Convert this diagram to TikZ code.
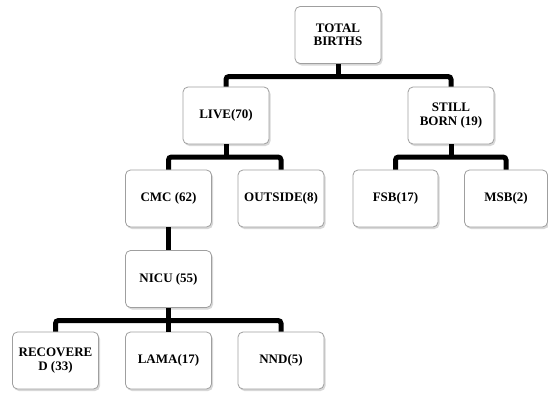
\documentclass[tikz,border=0pt]{standalone}
\usepackage{fontspec}
\setmainfont{Liberation Serif}
\usetikzlibrary{shadows}
\begin{document}
\begin{tikzpicture}[x=1pt,y=-1pt,
  box/.style={draw=gray!75, line width=0.8pt, fill=white, rounded corners=5pt,
    minimum width=86pt, minimum height=57pt, inner sep=2pt, align=center,
    font=\bfseries\fontsize{13}{13.5}\selectfont,
    drop shadow={shadow xshift=1.5pt, shadow yshift=-2pt, fill=gray!60, opacity=0.5}},
  conn/.style={line width=5pt, black, rounded corners=3pt}]
\fill[white] (0,0) rectangle (548,396);
\useasboundingbox (0,0) rectangle (548,396);
\node[box] (total) at (338,35) {TOTAL\\BIRTHS};
\node[box] (live) at (226,115.5) {LIVE(70)};
\node[box] (still) at (451,115.5) {STILL\\BORN (19)};
\node[box] (cmc) at (168.5,198.5) {CMC (62)};
\node[box] (outside) at (281,198.5) {OUTSIDE(8)};
\node[box, minimum width=85pt] (fsb) at (395.5,198.5) {FSB(17)};
\node[box, minimum width=83pt] (msb) at (506,198.5) {MSB(2)};
\node[box] (nicu) at (168.5,279) {NICU (55)};
\node[box] (rec) at (55.5,360.5) {RECOVERE\\D (33)};
\node[box] (lama) at (168.5,360.5) {LAMA(17)};
\node[box] (nnd) at (281,360.5) {NND(5)};
\coordinate (b1) at (338,76.5);
\coordinate (b2) at (226,157);
\coordinate (b3) at (451,157);
\coordinate (b4) at (168.5,320.5);
\draw[conn] (live.north) |- (b1) -| (still.north);
\draw[line width=5pt] (total.south) -- (total.south |- b1);
\draw[conn] (cmc.north) |- (b2) -| (outside.north);
\draw[line width=5pt] (live.south) -- (live.south |- b2);
\draw[conn] (fsb.north) |- (b3) -| (msb.north);
\draw[line width=5pt] (still.south) -- (still.south |- b3);
\draw[line width=5pt] (cmc.south) -- (nicu.north);
\draw[conn] (rec.north) |- (b4) -| (nnd.north);
\draw[line width=5pt] (nicu.south) -- (lama.north);
\end{tikzpicture}
\end{document}
